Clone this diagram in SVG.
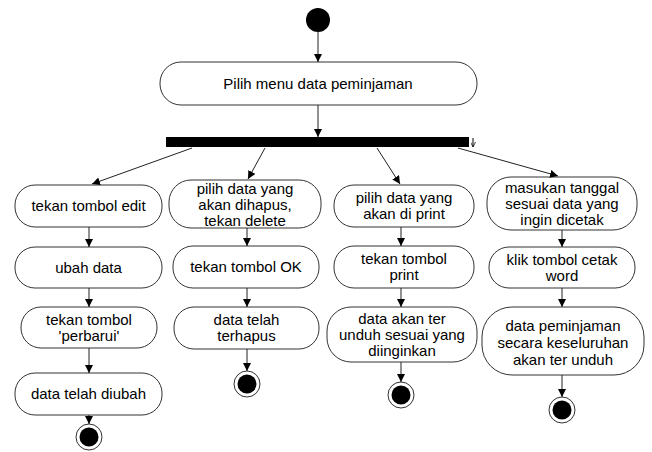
<svg xmlns="http://www.w3.org/2000/svg" width="652" height="452" viewBox="0 0 652 452">
<defs>
<style>
.n{fill:#fff;stroke:#333;stroke-width:1}
.t{font-family:"Liberation Sans",Arial,sans-serif;font-size:15px;fill:#000;text-anchor:middle}
.e{fill:none;stroke:#222;stroke-width:1}
.start{fill:#000}
.endo{fill:#fff;stroke:#333;stroke-width:1}
.endi{fill:#000}
</style>
<marker id="ah" viewBox="0 0 10 10" refX="10" refY="5" markerWidth="8" markerHeight="8" markerUnits="userSpaceOnUse" orient="auto">
<path d="M0,0 L10,5 L0,10 z" fill="#000"/>
</marker>
<marker id="ahs" viewBox="0 0 10 10" refX="10" refY="5" markerWidth="5" markerHeight="5" markerUnits="userSpaceOnUse" orient="auto">
<path d="M0,0 L10,5 L0,10" fill="none" stroke="#000" stroke-width="1.5"/>
</marker>
</defs>
<rect width="652" height="452" fill="#fff"/>

<g id="start"><circle class="start" cx="318" cy="20" r="12"/></g>

<g id="n_main"><rect class="n" x="160" y="62" width="317" height="43" rx="21" ry="21"/><text class="t" x="318" y="89">Pilih menu data peminjaman</text></g>

<g id="fork"><rect x="166" y="137" width="303" height="10" fill="#000"/><path d="M473,138 L473,147" fill="none" stroke="#000" stroke-width="1" marker-end="url(#ahs)"/></g>

<g id="n_c1a"><rect class="n" x="15" y="185" width="147" height="42" rx="20" ry="20"/><text class="t" x="88.5" y="211">tekan tombol edit</text></g>
<g id="n_c1b"><rect class="n" x="15" y="247" width="147" height="41" rx="20" ry="20"/><text class="t" x="88.5" y="273">ubah data</text></g>
<g id="n_c1c"><rect class="n" x="21" y="307" width="136" height="41" rx="20" ry="20"/><text class="t" x="89" y="325">tekan tombol</text><text class="t" x="89" y="341">'perbarui'</text></g>
<g id="n_c1d"><rect class="n" x="15" y="373" width="147" height="42" rx="20" ry="20"/><text class="t" x="88.5" y="399">data telah diubah</text></g>
<g id="end1"><circle class="endo" cx="89" cy="437" r="13"/><circle class="endi" cx="89" cy="437" r="9.5"/></g>

<g id="n_c2a"><rect class="n" x="169" y="180" width="152" height="48" rx="22" ry="22"/><text class="t" x="245" y="194">pilih data yang</text><text class="t" x="245" y="210">akan dihapus,</text><text class="t" x="245" y="226">tekan delete</text></g>
<g id="n_c2b"><rect class="n" x="173" y="246" width="146" height="42" rx="20" ry="20"/><text class="t" x="246" y="272">tekan tombol OK</text></g>
<g id="n_c2c"><rect class="n" x="174" y="307" width="145" height="42" rx="20" ry="20"/><text class="t" x="246.5" y="325">data telah</text><text class="t" x="246.5" y="341">terhapus</text></g>
<g id="end2"><circle class="endo" cx="247" cy="384" r="13"/><circle class="endi" cx="247" cy="384" r="9.5"/></g>

<g id="n_c3a"><rect class="n" x="334" y="185" width="140" height="42" rx="20" ry="20"/><text class="t" x="404" y="203">pilih data yang</text><text class="t" x="404" y="219">akan di print</text></g>
<g id="n_c3b"><rect class="n" x="334" y="246" width="140" height="42" rx="20" ry="20"/><text class="t" x="404" y="264">tekan tombol</text><text class="t" x="404" y="280">print</text></g>
<g id="n_c3c"><rect class="n" x="327" y="307" width="150" height="55" rx="24" ry="24"/><text class="t" x="402" y="324">data akan ter</text><text class="t" x="402" y="340">unduh sesuai yang</text><text class="t" x="402" y="356">diinginkan</text></g>
<g id="end3"><circle class="endo" cx="401" cy="395" r="13"/><circle class="endi" cx="401" cy="395" r="9.5"/></g>

<g id="n_c4a"><rect class="n" x="487" y="177" width="150" height="53" rx="24" ry="24"/><text class="t" x="562" y="193">masukan tanggal</text><text class="t" x="562" y="209">sesuai data yang</text><text class="t" x="562" y="225">ingin dicetak</text></g>
<g id="n_c4b"><rect class="n" x="489" y="247" width="146" height="41" rx="20" ry="20"/><text class="t" x="562" y="265">klik tombol cetak</text><text class="t" x="562" y="281">word</text></g>
<g id="n_c4c"><rect class="n" x="482" y="307" width="162" height="68" rx="30" ry="30"/><text class="t" x="563" y="331">data peminjaman</text><text class="t" x="563" y="348">secara keseluruhan</text><text class="t" x="563" y="365">akan ter unduh</text></g>
<g id="end4"><circle class="endo" cx="562" cy="410" r="13"/><circle class="endi" cx="562" cy="410" r="9.5"/></g>

<g id="edges">
<path class="e" d="M318,32 L318,62" marker-end="url(#ah)"/>
<path class="e" d="M318,105 L318,137" marker-end="url(#ah)"/>
<path class="e" d="M192,148 L92,184" marker-end="url(#ah)"/>
<path class="e" d="M265,148 L248,179" marker-end="url(#ah)"/>
<path class="e" d="M377,148 L400,184" marker-end="url(#ah)"/>
<path class="e" d="M458,148 L558,176" marker-end="url(#ah)"/>
<path class="e" d="M89,227 L89,247" marker-end="url(#ah)"/>
<path class="e" d="M89,288 L89,307" marker-end="url(#ah)"/>
<path class="e" d="M89,348 L89,373" marker-end="url(#ah)"/>
<path class="e" d="M89,415 L89,424" marker-end="url(#ah)"/>
<path class="e" d="M247,228 L247,246" marker-end="url(#ah)"/>
<path class="e" d="M247,288 L247,307" marker-end="url(#ah)"/>
<path class="e" d="M247,349 L247,371" marker-end="url(#ah)"/>
<path class="e" d="M401,227 L401,246" marker-end="url(#ah)"/>
<path class="e" d="M401,288 L401,307" marker-end="url(#ah)"/>
<path class="e" d="M401,362 L401,382" marker-end="url(#ah)"/>
<path class="e" d="M562,230 L562,247" marker-end="url(#ah)"/>
<path class="e" d="M562,288 L562,307" marker-end="url(#ah)"/>
<path class="e" d="M562,375 L562,397" marker-end="url(#ah)"/>
</g>
</svg>
